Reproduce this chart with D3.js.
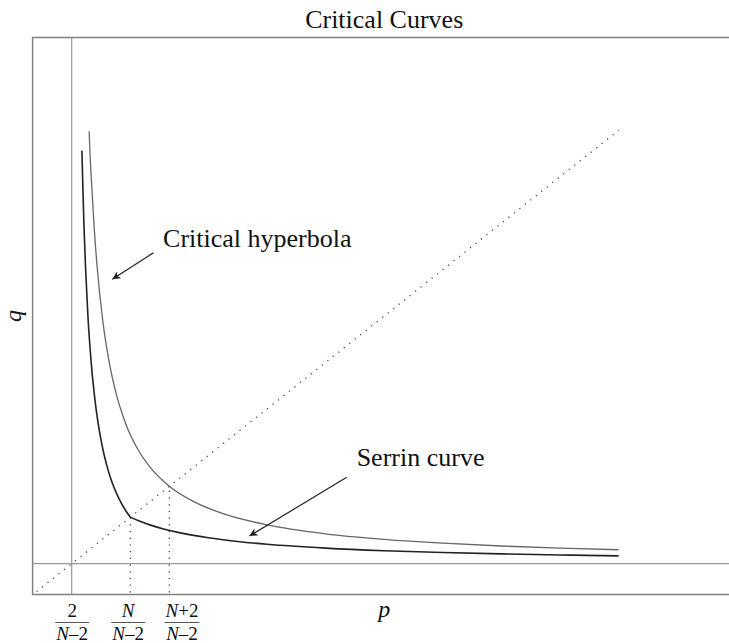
<!DOCTYPE html>
<html><head><meta charset="utf-8">
<script src="https://cdn.jsdelivr.net/npm/d3@7"></script>
<style>html,body{margin:0;padding:0;background:#fff;}svg{display:block;}</style>
</head><body>
<svg id="c" width="729" height="643"></svg>
<script>
// ---- data (N = 5) ----
const serrinLeft = [[0.841,9.56],[0.875,8],[0.905,7],[0.944,6],[1.0,5],[1.037,4.5],[1.083,4],[1.143,3.5],[1.222,3],[1.273,2.75],[1.333,2.5],[1.407,2.25],[1.5,2],[1.593,1.8],[1.667,1.667]];
const serrinRight = [[1.667,1.667],[1.8,1.593],[2,1.5],[2.25,1.407],[2.5,1.333],[3,1.222],[3.5,1.143],[4,1.083],[5,1.0],[6,0.944],[7,0.905],[8,0.875],[9,0.852],[10,0.833]];
const hyperbola = [[0.965,9.98],[0.98,9.5],[1.0,9],[1.05,7.913],[1.1,7.077],[1.2,5.873],[1.3,5.053],[1.4,4.455],[1.6,3.643],[1.8,3.118],[2.0,2.75],[2.333,2.333],[2.75,2.0],[3.25,1.742],[4,1.5],[5,1.308],[6,1.1875],[7,1.105],[8,1.045],[9,1.0],[10,0.964]];
const asymptote = 0.667;           // 2/(N-2)
const diagonal = [[0,0],[10,10]];
const dropPoints = [1.667, 2.333]; // N/(N-2), (N+2)/(N-2)
const tickNums = ["2","N","N+2"];
const tickDens = ["N\u20132","N\u20132","N\u20132"];
const tickLabelAt = [0.675, 1.63, 2.55];
const notes = [
  {text:"Critical hyperbola", tx:2.227, ty:7.49, from:[2.06,7.36], to:[1.36,6.79]},
  {text:"Serrin curve", tx:5.53, ty:2.77, from:[5.36,2.525], to:[3.70,1.26]}
];

const svg = d3.select("#c");
const x = d3.scaleLinear().domain([0,12]).range([32.6,735.8]);
const y = d3.scaleLinear().domain([0,12]).range([594.5,37.5]);
const serif = "'Liberation Serif','Times New Roman',serif";

svg.append("defs").append("marker").attr("id","ah").attr("viewBox","0 0 10 10")
  .attr("refX",10).attr("refY",5).attr("markerWidth",12).attr("markerHeight",8)
  .attr("markerUnits","userSpaceOnUse").attr("orient","auto")
  .append("path").attr("d","M0,0 L10,5 L0,10 L2.5,5 Z").attr("fill","#222");

// frame
svg.append("path")
  .attr("d",`M${x(12)},${y(12)} L${x(0)},${y(12)} L${x(0)},${y(0)} L${x(12)},${y(0)}`)
  .attr("fill","none").attr("stroke","#808080").attr("stroke-width",1.5);

// asymptote lines
svg.append("line").attr("x1",x(asymptote)).attr("x2",x(asymptote)).attr("y1",y(0)).attr("y2",y(12))
  .attr("stroke","#9a9a9a").attr("stroke-width",1.2);
svg.append("line").attr("x1",x(0)).attr("x2",x(12)).attr("y1",y(asymptote)).attr("y2",y(asymptote))
  .attr("stroke","#9a9a9a").attr("stroke-width",1.2);

// dotted lines
svg.append("line").attr("x1",x(diagonal[0][0])+4).attr("y1",y(diagonal[0][1])-3)
  .attr("x2",x(diagonal[1][0])).attr("y2",y(diagonal[1][1]))
  .attr("stroke","#444").attr("stroke-width",1.3).attr("stroke-dasharray","1.2,5.8");
dropPoints.forEach(v=>{
  svg.append("line").attr("x1",x(v)).attr("x2",x(v)).attr("y1",y(0)-2).attr("y2",y(v))
    .attr("stroke","#444").attr("stroke-width",1.3).attr("stroke-dasharray","1.2,5.5");
});

const line = d3.line().x(d=>x(d[0])).y(d=>y(d[1])).curve(d3.curveMonotoneX);
svg.append("path").attr("d",line(hyperbola)).attr("fill","none").attr("stroke","#666").attr("stroke-width",1.3);
[serrinLeft, serrinRight].forEach(b=>{
  svg.append("path").attr("d",line(b)).attr("fill","none").attr("stroke","#222").attr("stroke-width",1.6);
});

// title
svg.append("text").attr("x",x(6)).attr("y",28).attr("text-anchor","middle")
  .attr("font-family",serif).attr("font-size",26).attr("fill","#111").text("Critical Curves");

// axis labels
svg.append("text").attr("x",x(6)).attr("y",617).attr("text-anchor","middle")
  .attr("font-family",serif).attr("font-style","italic").attr("font-size",24).attr("fill","#111").text("p");
svg.append("text").attr("transform",`translate(21,${y(6)}) rotate(-90)`).attr("text-anchor","middle")
  .attr("font-family",serif).attr("font-style","italic").attr("font-size",24).attr("fill","#111").text("q");

// fraction tick labels
tickLabelAt.forEach((v,i)=>{
  const g = svg.append("g").attr("transform",`translate(${x(v)},0)`);
  const num = g.append("text").attr("x",0).attr("y",617).attr("text-anchor","middle")
    .attr("font-family",serif).attr("font-size",19).attr("fill","#111");
  const den = g.append("text").attr("x",0).attr("y",640).attr("text-anchor","middle")
    .attr("font-family",serif).attr("font-size",19).attr("fill","#111");
  [num,den].forEach((t,k)=>{
    const s = k===0 ? tickNums[i] : tickDens[i];
    const parts = s.split(/(N)/).filter(z=>z.length);
    parts.forEach(p=>t.append("tspan").attr("font-style",p==="N"?"italic":"normal").text(p));
  });
  const w = Math.max(num.node().getComputedTextLength(), den.node().getComputedTextLength());
  g.append("line").attr("x1",-w/2-1).attr("x2",w/2+1).attr("y1",622.5).attr("y2",622.5)
    .attr("stroke","#555").attr("stroke-width",1.1);
});

// annotations
notes.forEach(n=>{
  svg.append("text").attr("x",x(n.tx)).attr("y",y(n.ty)).attr("font-family",serif)
    .attr("font-size",26).attr("fill","#111").text(n.text);
  svg.append("line").attr("x1",x(n.from[0])).attr("y1",y(n.from[1]))
    .attr("x2",x(n.to[0])).attr("y2",y(n.to[1]))
    .attr("stroke","#222").attr("stroke-width",1.2).attr("marker-end","url(#ah)");
});
</script>
</body></html>
